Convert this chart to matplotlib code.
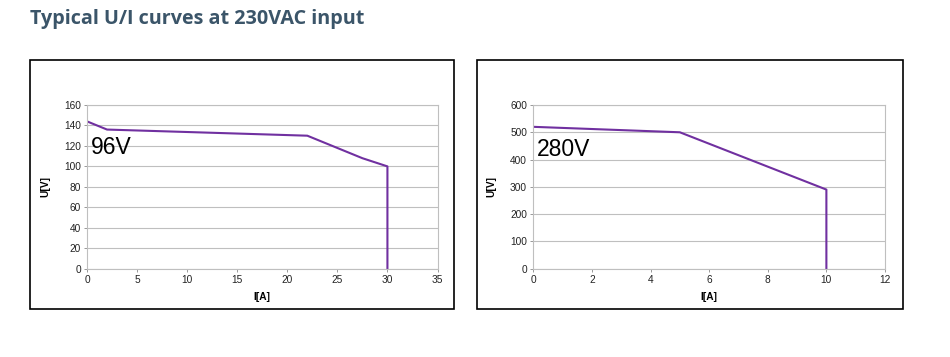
import matplotlib.pyplot as plt
import matplotlib.patches as patches

# 96V module: current [A] vs voltage [V]
i_96 = [0, 2, 22, 27.5, 30, 30]
u_96 = [144, 136, 130, 108, 100, 0]

# 280V module
i_280 = [0, 5, 10, 10]
u_280 = [520, 500, 290, 0]

W, H = 950, 357
plt.rcParams['font.family'] = ['Liberation Sans', 'DejaVu Sans']
fig = plt.figure(figsize=(W / 100, H / 100), dpi=100)

line_col = '#7030a0'
grid_col = '#bfbfbf'


def px_axes(x0, x1, y0, y1):
    # pixel box -> figure fraction
    return fig.add_axes([x0 / W, 1 - y1 / H, (x1 - x0) / W, (y1 - y0) / H])


def style(ax, xmax, xstep, ymax, ystep):
    ax.set_xlim(0, xmax)
    ax.set_ylim(0, ymax)
    ax.set_xticks(range(0, xmax + 1, xstep))
    ax.set_yticks(range(0, ymax + 1, ystep))
    ax.yaxis.grid(True, color=grid_col, lw=0.8)
    ax.set_axisbelow(True)
    for s in ax.spines.values():
        s.set_color(grid_col)
        s.set_linewidth(0.8)
    ax.tick_params(labelsize=7.3, length=2.5, width=0.6, color='#888888', pad=2,
                   labelcolor='#222222')
    ax.set_xlabel('I[A]', fontsize=7.3, fontweight='bold', labelpad=5)
    ax.set_ylabel('U[V]', fontsize=7.3, fontweight='bold', labelpad=10)


# outer frames
for x0, x1 in [(30, 454), (477, 903)]:
    fig.patches.append(patches.Rectangle((x0 / W, 1 - 309 / H), (x1 - x0) / W, 249 / H,
                                         transform=fig.transFigure, fill=False,
                                         edgecolor='black', lw=1.2))

ax1 = px_axes(87, 437.5, 105, 268.7)
style(ax1, 35, 5, 160, 20)
ax1.plot(i_96, u_96, color=line_col, lw=1.5)
ax1.text(0.4, 118, '96V', fontsize=16.5, va='center', ha='left')

ax2 = px_axes(533.3, 885, 105, 268.7)
style(ax2, 12, 2, 600, 100)
ax2.plot(i_280, u_280, color=line_col, lw=1.5)
ax2.text(0.12, 438, '280V', fontsize=16.5, va='center', ha='left')

fig.text(30 / W, 1 - 19 / H, 'Typical U/I curves at 230VAC input', fontsize=14.2,
         fontweight='bold', color='#3b5569', va='center', ha='left',
         family=['Open Sans', 'DejaVu Sans'])

fig.savefig('out.png', dpi=100)
